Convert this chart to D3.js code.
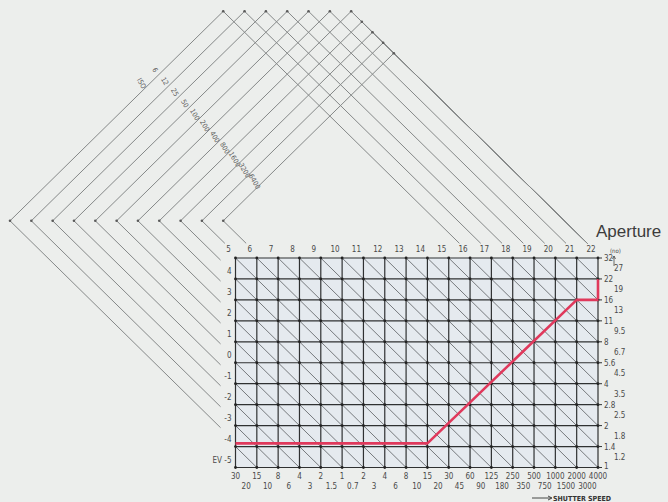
<!DOCTYPE html>
<html>
<head>
<meta charset="utf-8">
<script src="https://cdn.jsdelivr.net/npm/d3@7"></script>
<style>
body { margin: 0; background: #eceeec; }
svg { display: block; }
text { font-family: "Liberation Sans Narrow", "DejaVu Sans Condensed", "Liberation Sans", sans-serif; fill: #4a4a4a; }
</style>
</head>
<body>
<div id="chart"></div>
<script>
// Exposure program chart: EV grid (shutter x aperture) with ISO nomogram above

// EV values along top edge and left edge
var evTop = [5, 6, 7, 8, 9, 10, 11, 12, 13, 14, 15, 16, 17, 18, 19, 20, 21, 22];
var evLeft = [4, 3, 2, 1, 0, -1, -2, -3, -4, -5];

// shutter speeds: on the lines and between them
var shutterMain = ["30", "15", "8", "4", "2", "1", "2", "4", "8", "15", "30", "60", "125", "250", "500", "1000", "2000", "4000"];
var shutterMid = ["20", "10", "6", "3", "1.5", "0.7", "3", "6", "10", "20", "45", "90", "180", "350", "750", "1500", "3000"];

// apertures: on the lines and between them
var apertureMain = ["32", "22", "16", "11", "8", "5.6", "4", "2.8", "2", "1.4", "1"];
var apertureMid = ["27", "19", "13", "9.5", "6.7", "4.5", "3.5", "2.5", "1.8", "1.2"];

// ISO nomogram: film speed, EV at the low end and EV at the high end
var isoSpeeds = ["6", "12", "25", "50", "100", "200", "400", "800", "1600", "3200", "6400"];
var isoLowEV = [-4, -3, -2, -1, 0, 1, 2, 3, 4, 5, 6];
var isoHighEV = [16, 17, 18, 19, 20, 21, 22, 22, 22, 22, 22];

// program line: shutter step (0 = 30s) and aperture step (0 = f/32)
var programShutter = [0, 9, 16, 17, 17];
var programAperture = [8.85, 8.85, 2, 2, 1];

var width = 668, height = 502;
var nCols = shutterMain.length - 1;
var nRows = apertureMain.length - 1;

var x = d3.scaleLinear().domain([0, nCols]).range([235.5, 598]);
var y = d3.scaleLinear().domain([0, nRows]).range([258, 467.5]);

var svg = d3.select("#chart").append("svg")
	.attr("width", width)
	.attr("height", height);

svg.append("rect")
	.attr("width", width)
	.attr("height", height)
	.attr("fill", "#eceeec");

// nomogram helpers (grid units, EV lines run along c - r)
var shift = 0.2;
function meet(ev, i) {
	var k = ev + shift - 5, s = i - 12.35;
	return {c: (s + k) / 2, r: (s - k) / 2};
}
function frameEnd(ev) {
	var k = ev + shift - 5;
	if (ev >= 5) return {c: -0.7 + k, r: -0.7};
	return {c: -0.7, r: -0.7 - k};
}

var nomo = svg.append("g")
	.attr("stroke", "#858888")
	.attr("stroke-width", 1)
	.attr("fill", "none");

isoSpeeds.forEach(function(iso, i) {
	var a = frameEnd(isoLowEV[i]);
	var L = meet(isoLowEV[i], i);
	var T = meet(isoHighEV[i], i);
	var b = frameEnd(isoHighEV[i]);
	nomo.append("path")
		.attr("d", d3.line()([[x(a.c), y(a.r)], [x(L.c), y(L.r)], [x(T.c), y(T.r)], [x(b.c), y(b.r)]]));
	[L, T].forEach(function(p) {
		svg.append("circle")
			.attr("cx", x(p.c))
			.attr("cy", y(p.r))
			.attr("r", 1.3)
			.attr("fill", "#5a5a5a");
	});
});

// ISO labels
isoSpeeds.forEach(function(iso, i) {
	var s = i - 12.75, k = 5.2 - 0.065 * i;
	var c = (s + k) / 2, r = (s - k) / 2;
	svg.append("text")
		.attr("transform", "translate(" + x(c) + "," + y(r) + ") rotate(60)")
		.attr("text-anchor", "middle")
		.attr("dy", "0.35em")
		.style("font-size", "7px")
		.style("fill", "#5f6060")
		.text(iso);
});
svg.append("text")
	.attr("transform", "translate(" + x(-4.4) + "," + y(-8.34) + ") rotate(60)")
	.attr("text-anchor", "middle")
	.attr("dy", "0.35em")
	.style("font-size", "7px")
	.style("fill", "#5f6060")
	.text("ISO");

// grid background
svg.append("rect")
	.attr("x", x(0))
	.attr("y", y(0))
	.attr("width", x(nCols) - x(0))
	.attr("height", y(nRows) - y(0))
	.attr("fill", "#e5eaef");

// EV diagonals inside the grid
var evAll = evTop.concat(evLeft);
svg.append("g").selectAll("line")
	.data(evAll)
	.enter()
	.append("line")
	.each(function(e) {
		var c = e >= 5 ? e - 5 : 0;
		var r = e >= 5 ? 0 : 5 - e;
		var len = Math.min(nCols - c, nRows - r);
		d3.select(this)
			.attr("x1", x(c)).attr("y1", y(r))
			.attr("x2", x(c + len)).attr("y2", y(r + len));
	})
	.attr("stroke", "#6a6d70")
	.attr("stroke-width", 0.9);

// vertical and horizontal grid lines
svg.append("g").selectAll("line")
	.data(d3.range(nCols + 1))
	.enter()
	.append("line")
	.attr("x1", function(d) { return x(d); })
	.attr("x2", function(d) { return x(d); })
	.attr("y1", y(0))
	.attr("y2", y(nRows))
	.attr("stroke", "#2f3132")
	.attr("stroke-width", 1.2);

svg.append("g").selectAll("line")
	.data(d3.range(nRows + 1))
	.enter()
	.append("line")
	.attr("x1", x(0))
	.attr("x2", x(nCols))
	.attr("y1", function(d) { return y(d); })
	.attr("y2", function(d) { return y(d); })
	.attr("stroke", "#2f3132")
	.attr("stroke-width", 1.2);

// dots at the nodes
var nodes = [];
d3.range(nCols + 1).forEach(function(c) {
	d3.range(nRows + 1).forEach(function(r) { nodes.push([c, r]); });
});
svg.append("g").selectAll("circle")
	.data(nodes)
	.enter()
	.append("circle")
	.attr("cx", function(d) { return x(d[0]); })
	.attr("cy", function(d) { return y(d[1]); })
	.attr("r", 1.4)
	.attr("fill", "#222");

// program line
var program = programShutter.map(function(s, i) { return [s, programAperture[i]]; });
svg.append("path")
	.attr("d", d3.line().x(function(d) { return x(d[0]); }).y(function(d) { return y(d[1]); })(program))
	.attr("fill", "none")
	.attr("stroke", "#e0395c")
	.attr("stroke-width", 2.6)
	.attr("stroke-linejoin", "round");

// EV labels, top
svg.append("g").selectAll("text")
	.data(evTop)
	.enter()
	.append("text")
	.attr("x", function(d, i) { return x(i) - 7; })
	.attr("y", y(0) - 6)
	.attr("text-anchor", "middle")
	.style("font-size", "8px")
	.text(function(d) { return d; });

// EV labels, left
svg.append("g").selectAll("text")
	.data(evLeft)
	.enter()
	.append("text")
	.attr("x", x(0) - 4)
	.attr("y", function(d, i) { return y(i + 1) - 5; })
	.attr("text-anchor", "end")
	.style("font-size", "8px")
	.text(function(d, i) { return i === evLeft.length - 1 ? "EV " + d : d; });

// aperture labels, right
svg.append("g").selectAll("line")
	.data(apertureMain)
	.enter()
	.append("line")
	.attr("x1", x(nCols))
	.attr("x2", x(nCols) + 4)
	.attr("y1", function(d, i) { return y(i); })
	.attr("y2", function(d, i) { return y(i); })
	.attr("stroke", "#2f3132")
	.attr("stroke-width", 1);

svg.append("g").selectAll("text")
	.data(apertureMain)
	.enter()
	.append("text")
	.attr("x", x(nCols) + 6)
	.attr("y", function(d, i) { return y(i) + (i === apertureMain.length - 1 ? 1 : 3); })
	.style("font-size", "8px")
	.text(function(d) { return d; });

svg.append("g").selectAll("text")
	.data(apertureMid)
	.enter()
	.append("text")
	.attr("x", x(nCols) + 16)
	.attr("y", function(d, i) { return y(i + 0.5) + 3; })
	.style("font-size", "8px")
	.text(function(d) { return d; });

svg.append("text")
	.attr("x", x(nCols) + 12)
	.attr("y", y(0) - 5)
	.style("font-size", "6px")
	.text("(no)");

svg.append("path")
	.attr("d", "M" + (x(nCols) + 16) + "," + (y(0) + 8) + "V" + (y(0) - 2)
		+ "M" + (x(nCols) + 14.5) + "," + (y(0) + 1) + "L" + (x(nCols) + 16) + "," + (y(0) - 2) + "L" + (x(nCols) + 17.5) + "," + (y(0) + 1))
	.attr("fill", "none")
	.attr("stroke", "#4a4a4a")
	.attr("stroke-width", 0.8);

svg.append("text")
	.attr("x", 596)
	.attr("y", 237)
	.style("font-family", "'Liberation Sans', Arial, sans-serif")
	.style("font-size", "17px")
	.style("fill", "#3c3c3c")
	.text("Aperture");

// shutter speed labels, bottom
svg.append("g").selectAll("text")
	.data(shutterMain)
	.enter()
	.append("text")
	.attr("x", function(d, i) { return x(i); })
	.attr("y", y(nRows) + 11)
	.attr("text-anchor", "middle")
	.style("font-size", "8px")
	.text(function(d) { return d; });

svg.append("g").selectAll("text")
	.data(shutterMid)
	.enter()
	.append("text")
	.attr("x", function(d, i) { return x(i + 0.5); })
	.attr("y", y(nRows) + 21)
	.attr("text-anchor", "middle")
	.style("font-size", "8px")
	.text(function(d) { return d; });

// shutter speed arrow
svg.append("path")
	.attr("d", "M532,498H551M548,496L552,498L548,500")
	.attr("fill", "none")
	.attr("stroke", "#333")
	.attr("stroke-width", 0.9);

svg.append("text")
	.attr("x", 553)
	.attr("y", 501)
	.style("font-size", "7px")
	.style("font-weight", "bold")
	.style("fill", "#333")
	.text("SHUTTER SPEED");
</script>
</body>
</html>
